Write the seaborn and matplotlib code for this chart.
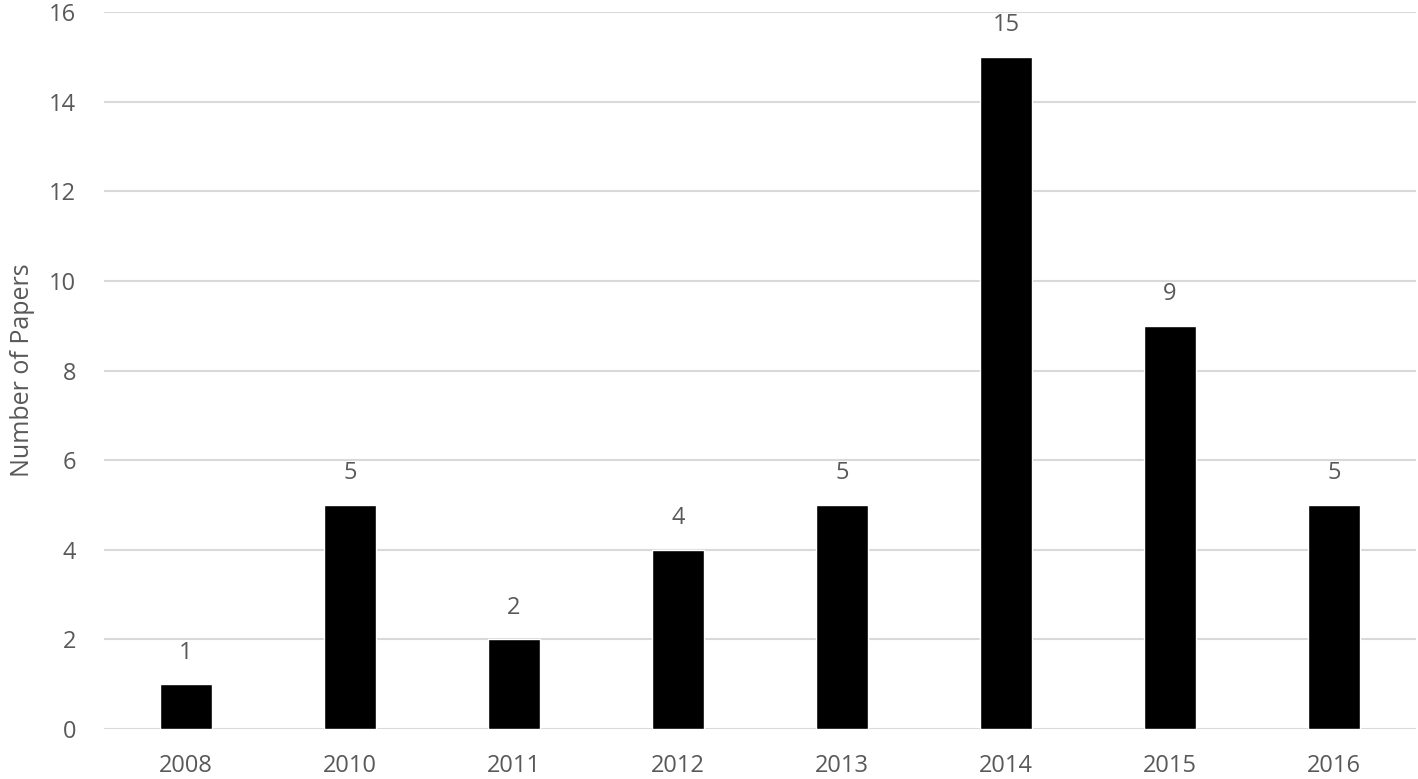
import matplotlib
matplotlib.use("Agg")
import matplotlib.pyplot as plt
import seaborn as sns
import pandas as pd

# dati
years = ["2008", "2010", "2011", "2012", "2013", "2014", "2015", "2016"]
papers = [1, 5, 2, 4, 5, 15, 9, 5]
y_ticks = [0, 2, 4, 6, 8, 10, 12, 14, 16]

df = pd.DataFrame({"Year": years, "Papers": papers})

sns.set_style("white")
plt.rcParams['font.family'] = ['Open Sans', 'DejaVu Sans']
text_col = "#595959"

fig = plt.figure(figsize=(14.18, 7.79), dpi=100)
ax = fig.add_axes([104 / 1418, 50 / 779, 1312 / 1418, 717 / 779])

sns.barplot(data=df, x="Year", y="Papers", color="black", width=0.323,
            saturation=1, ax=ax)

ax.set_xlim(-0.5, 7.5)
ax.set_ylim(0, 16)
ax.set_yticks(y_ticks)
ax.yaxis.grid(True, color="#d9d9d9", linewidth=1.5)
ax.set_axisbelow(True)
for s in ax.spines.values():
    s.set_visible(False)

ax.tick_params(axis="both", length=0, labelsize=17, labelcolor=text_col)
ax.tick_params(axis="y", pad=20)
ax.tick_params(axis="x", pad=18)
ax.set_xlabel("")
ax.set_ylabel("Number of Papers", fontsize=18, color=text_col, labelpad=10)

# etichette sopra le barre
for i, v in enumerate(papers):
    ax.annotate(str(v), (i, v), xytext=(0, 14), textcoords="offset points",
                ha="center", va="bottom", fontsize=17, color=text_col)

fig.savefig("out.png", dpi=100)
